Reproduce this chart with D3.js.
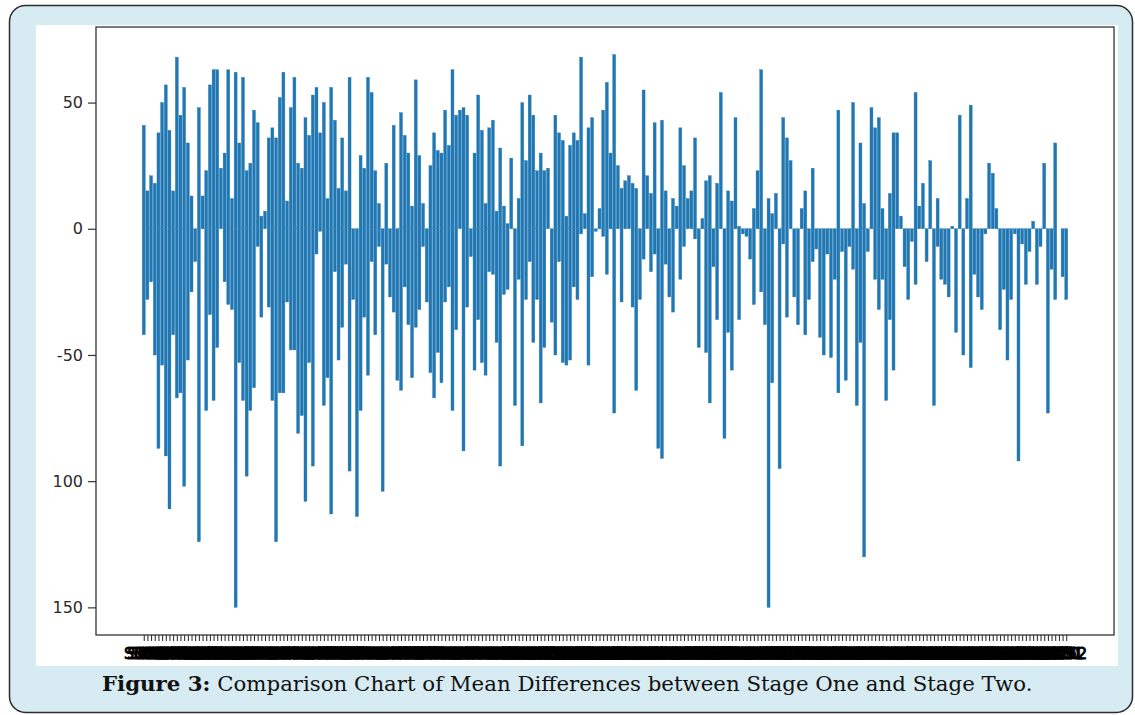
<!DOCTYPE html>
<html><head><meta charset="utf-8">
<script src="https://cdn.jsdelivr.net/npm/d3@7"></script>
<style>body{margin:0;background:#fff}svg{display:block}</style>
</head><body>
<svg id="chart" width="1135" height="715"></svg>
<script>
// Upper (positive) bar of each overlapping pair
const seriesA = [41,15,21,18,38,50,57,39,15,68,
45,56,34,13,0,48,13,23,57,63,
63,24,30,63,12,62,34,60,23,26,
47,42,5,7,36,40,36,52,62,11,
48,60,26,24,44,37,53,56,38,50,
12,56,43,16,36,15,60,0,0,29,
24,60,54,23,10,0,26,0,41,0,
46,37,30,9,59,29,10,0,25,38,
31,30,47,33,63,45,47,48,45,0,
30,53,39,10,40,43,7,32,9,2,
28,0,12,50,27,53,45,23,30,23,
24,0,45,38,35,5,33,38,35,68,
6,40,44,0,8,47,58,30,69,25,
16,19,21,18,16,0,55,21,14,42,
0,43,15,0,12,9,40,25,12,15,
36,0,4,19,21,0,18,54,0,15,
11,44,1,0,0,0,8,23,63,0,
12,6,14,0,44,36,27,0,0,8,
15,0,24,0,0,0,0,0,0,47,
0,0,0,50,0,34,10,0,48,40,
44,8,0,14,38,38,5,0,0,0,
54,9,18,0,27,0,12,0,0,0,
1,0,45,0,12,49,0,0,0,0,
26,22,8,0,0,0,0,0,0,0,
0,0,3,0,0,26,0,0,34,0,
0,0];
// Lower (negative) bar of each overlapping pair
const seriesB = [-42,-28,-21,-50,-87,-54,-90,-111,-42,-67,
-65,-102,-52,-25,-13,-124,0,-72,-34,-68,
-47,0,-21,-30,-32,-150,-53,-68,-98,-72,
-63,-7,-35,0,-31,-68,-124,-65,-65,-29,
-48,-48,-81,-74,-108,-53,-94,-10,-1,-70,
-59,-113,-17,-52,-39,-14,-96,-28,-114,-72,
-35,-58,-13,-42,-7,-104,-14,-27,-33,-60,
-64,-23,-38,-59,-39,-32,-7,-29,-57,-67,
-49,-61,-29,-23,-72,-40,0,-88,-31,-11,
-56,-36,-53,-58,-17,-18,-45,-94,-26,-24,
0,-70,-20,-86,-28,-13,-45,-28,-69,-47,
0,-37,-50,-13,-53,-54,-52,-23,-28,-2,
0,-54,-19,-1,0,-3,-18,0,-73,0,
-29,0,0,-31,-64,-28,-12,0,-17,-10,
-87,-91,-14,-27,-33,0,-20,-7,0,0,
-4,-47,0,-49,-69,-15,-36,0,-83,-41,
-56,0,-36,-2,-3,-12,-30,0,-25,-38,
-150,-61,0,-95,-6,-35,0,-27,-38,0,
-42,-28,-13,-8,-43,-50,-10,-51,-20,-65,
-9,-60,-7,-16,-70,-45,-130,-9,0,-20,
-32,-20,-68,-36,-56,0,0,-15,-28,-5,
-22,0,0,-13,0,-70,-7,-20,-22,-27,
0,-41,0,-50,0,-55,-18,-27,-32,-2,
0,0,0,-40,-24,-52,-28,-2,-92,-6,
-22,-9,0,-22,-7,0,-73,-16,-28,0,
-19,-28];
const categories = seriesA.map((d, i) => "S" + String(i + 1).padStart(3, "0"));
const yTickValues = [50, 0, -50, -100, -150];
const yTickLabels = ["50", "0", "-50", "100", "150"];
const captionBold = "Figure 3:";
const captionText = " Comparison Chart of Mean Differences between Stage One and Stage Two.";

const svg = d3.select("#chart");
// outer frame
svg.append("rect").attr("x", 9.5).attr("y", 5.5).attr("width", 1123).attr("height", 707)
  .attr("rx", 16).attr("fill", "#d7ecf2").attr("stroke", "#2b2b2b").attr("stroke-width", 1.5);
svg.append("rect").attr("x", 36).attr("y", 25).attr("width", 1082).attr("height", 641).attr("fill", "#ffffff");

const L = 96, R = 1114, T = 27, B = 635;
const n = categories.length;
const span = n - 0.2;
const x = d3.scaleLinear().domain([-0.4 - 0.05 * span, n - 0.6 + 0.05 * span]).range([L, R]);
const allVals = seriesA.concat(seriesB);
const yMin = d3.min(allVals), yMax = d3.max(allVals);
const yr = yMax - yMin;
const y = d3.scaleLinear().domain([yMin - 0.05 * yr, yMax + 0.05 * yr]).range([B, T]);
const bw = x(0.8) - x(0);

const g = svg.append("g");
function drawSeries(arr) {
  g.append("g").selectAll("rect").data(arr.map((v, i) => ({v, i})).filter(d => d.v !== 0))
    .join("rect")
    .attr("x", d => x(d.i - 0.4))
    .attr("width", bw)
    .attr("y", d => y(Math.max(0, d.v)))
    .attr("height", d => Math.abs(y(d.v) - y(0)))
    .attr("fill", "#1f77b4")
    .attr("stroke", "#2a7ab0").attr("stroke-width", 0.4);
}
drawSeries(seriesA);
drawSeries(seriesB);

// axes
const yAxis = d3.axisLeft(y).tickValues(yTickValues).tickFormat((d, i) => yTickLabels[i]).tickSize(8).tickPadding(5);
const ya = svg.append("g").attr("transform", `translate(${L},0)`).call(yAxis);
ya.select(".domain").remove();
ya.selectAll("line").attr("stroke", "#333").attr("stroke-width", 1.2);
ya.selectAll("text").attr("font-family", "DejaVu Sans").attr("font-size", 16).attr("fill", "#2a2a2a");

const xAxis = d3.axisBottom(x).tickValues(d3.range(n)).tickFormat(i => categories[i]).tickSize(6).tickPadding(7);
const xa = svg.append("g").attr("transform", `translate(0,${B})`).call(xAxis);
xa.select(".domain").remove();
xa.selectAll("line").attr("stroke", "#222").attr("stroke-width", 1);
xa.selectAll("text").attr("font-family", "DejaVu Sans").attr("font-size", 16)
  .attr("fill", "#000").attr("stroke", "#000").attr("stroke-width", 0.9);

svg.append("rect").attr("x", L).attr("y", T).attr("width", R - L).attr("height", B - T)
  .attr("fill", "none").attr("stroke", "#333").attr("stroke-width", 1.3);

// caption
const cap = svg.append("text").attr("x", 102).attr("y", 691)
  .attr("font-family", "DejaVu Serif").attr("font-size", 22).attr("fill", "#111");
cap.append("tspan").attr("font-weight", "bold").text(captionBold);
cap.append("tspan").text(captionText);
const w = cap.node().getComputedTextLength();
cap.attr("font-size", 22 * 931 / w);
</script>
</body></html>
